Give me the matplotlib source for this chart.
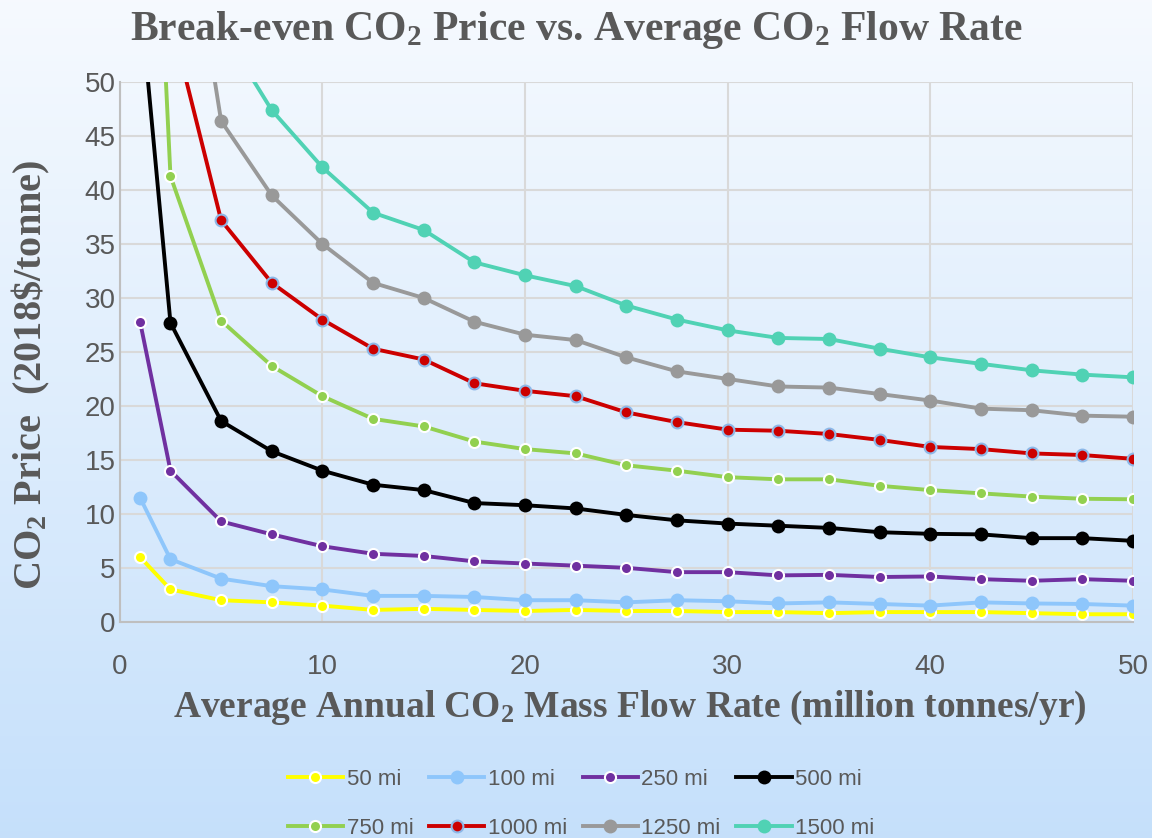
import numpy as np
import matplotlib
matplotlib.use('Agg')
import matplotlib.pyplot as plt

plt.rcParams['font.family'] = ['Liberation Sans', 'DejaVu Sans']
plt.rcParams['mathtext.fontset'] = 'custom'
plt.rcParams['mathtext.rm'] = 'Liberation Serif:bold'
plt.rcParams['mathtext.bf'] = 'Liberation Serif:bold'
plt.rcParams['mathtext.it'] = 'Liberation Serif:bold'

# flow rate (million tonnes/yr)
flow = [1, 2.5, 5, 7.5, 10, 12.5, 15, 17.5, 20, 22.5, 25,
        27.5, 30, 32.5, 35, 37.5, 40, 42.5, 45, 47.5, 50]

labels = ['50 mi', '100 mi', '250 mi', '500 mi',
          '750 mi', '1000 mi', '1250 mi', '1500 mi']

p50 = [6.0, 3.0, 2.0, 1.8, 1.5, 1.1, 1.2, 1.1, 1.0, 1.1, 1.0,
       1.0, 0.9, 0.9, 0.8, 0.9, 0.9, 0.9, 0.8, 0.7, 0.7]
p100 = [11.5, 5.8, 4.0, 3.3, 3.0, 2.4, 2.4, 2.3, 2.0, 2.0, 1.8,
        2.0, 1.9, 1.7, 1.8, 1.65, 1.5, 1.8, 1.7, 1.65, 1.5]
p250 = [27.8, 14.0, 9.3, 8.1, 7.0, 6.3, 6.1, 5.6, 5.4, 5.2, 5.0,
        4.6, 4.6, 4.3, 4.35, 4.15, 4.2, 3.95, 3.8, 3.95, 3.8]
p500 = [58.0, 27.7, 18.6, 15.8, 14.0, 12.7, 12.2, 11.0, 10.8, 10.5, 9.9,
        9.4, 9.1, 8.9, 8.7, 8.3, 8.15, 8.1, 7.75, 7.75, 7.5]
p750 = [100.0, 41.3, 27.9, 23.7, 20.9, 18.8, 18.1, 16.7, 16.0, 15.6, 14.5,
        14.0, 13.4, 13.2, 13.2, 12.6, 12.2, 11.9, 11.6, 11.4, 11.35]
p1000 = [110.0, 56.0, 37.2, 31.4, 28.0, 25.3, 24.3, 22.1, 21.4, 20.9, 19.4,
         18.5, 17.8, 17.7, 17.4, 16.85, 16.2, 16.0, 15.6, 15.45, 15.1]
p1250 = [140.0, 76.0, 46.4, 39.5, 35.0, 31.4, 30.0, 27.8, 26.6, 26.1, 24.5,
         23.2, 22.5, 21.8, 21.7, 21.1, 20.5, 19.75, 19.6, 19.1, 19.0]
p1500 = [160.0, 80.0, 55.0, 47.4, 42.1, 37.9, 36.3, 33.3, 32.1, 31.1, 29.3,
         28.0, 27.0, 26.3, 26.2, 25.3, 24.5, 23.9, 23.3, 22.9, 22.65]

series = [p50, p100, p250, p500, p750, p1000, p1250, p1500]
colors = ['#FFFF00', '#8EC6FB', '#7030A0', '#000000',
          '#92D050', '#CC0000', '#999999', '#50D2B4']
edges = ['white', None, 'white', None, 'white', '#8DB8E8', None, None]
msizes = [8, 10, 8, 10, 8, 8.5, 10, 10]

fig = plt.figure(figsize=(11.52, 8.38), dpi=100)

# background gradient
bg = fig.add_axes([0, 0, 1, 1], zorder=-10)
grad = np.linspace(0, 1, 256).reshape(-1, 1)
top = np.array([0.965, 0.980, 0.998])
bot = np.array([0.773, 0.878, 0.984])
img = top + (bot - top) * grad[:, :, None]
bg.imshow(img, aspect='auto', extent=[0, 1, 0, 1])
bg.axis('off')

ax = fig.add_axes([0.104, 0.258, 0.8795, 0.644])
ax.patch.set_alpha(0)

handles = []
for vals, lab, c, ec, ms in zip(series, labels, colors, edges, msizes):
    h, = ax.plot(flow, vals, color=c, lw=2.8, marker='o', ms=ms,
                 markerfacecolor=c, markeredgecolor=ec if ec else c,
                 markeredgewidth=1.5 if ec else 0, label=lab)
    handles.append(h)

ax.set_xlim(0, 50)
ax.set_ylim(0, 50)
ax.set_xticks(np.arange(0, 51, 10))
ax.set_yticks(np.arange(0, 51, 5))
ax.grid(True, color='#D9D9D9', lw=1.5)
ax.set_axisbelow(True)
for s in ['top', 'right']:
    ax.spines[s].set_visible(False)
for s in ['left', 'bottom']:
    ax.spines[s].set_color('#BFBFBF')
    ax.spines[s].set_linewidth(1.5)
ax.tick_params(length=0, labelsize=20, labelcolor='#595959')
ax.tick_params(axis='x', pad=23)
ax.tick_params(axis='y', pad=3)

fig.text(0.5, 1 - 40 / 838,
         r'Break-even CO$_{\mathbf{2}}$ Price vs. Average CO$_{\mathbf{2}}$ Flow Rate',
         family='Liberation Serif', fontweight='bold', fontsize=30,
         color='#595959', ha='center', va='baseline')
fig.text(630 / 1152, 1 - 708 / 838,
         r'Average Annual CO$_{\mathbf{2}}$ Mass Flow Rate (million tonnes/yr)',
         family='Liberation Serif', fontweight='bold', fontsize=27,
         color='#595959', ha='center', va='center')
fig.text(31 / 1152, 1 - 375 / 838,
         r'CO$_{\mathbf{2}}$ Price  (2018\$/tonne)',
         family='Liberation Serif', fontweight='bold', fontsize=29,
         color='#595959', ha='center', va='center', rotation=90)

# row-major order like Excel legend
order = [0, 4, 1, 5, 2, 6, 3, 7]
fig.legend([handles[i] for i in order], [labels[i] for i in order],
           loc='center', bbox_to_anchor=(581 / 1152, 1 - 804 / 838), ncol=4,
           frameon=False, fontsize=16, labelcolor='#595959', handlelength=2.5,
           handletextpad=0.15, columnspacing=0.7, labelspacing=1.25)

fig.savefig('out.png', dpi=100)
